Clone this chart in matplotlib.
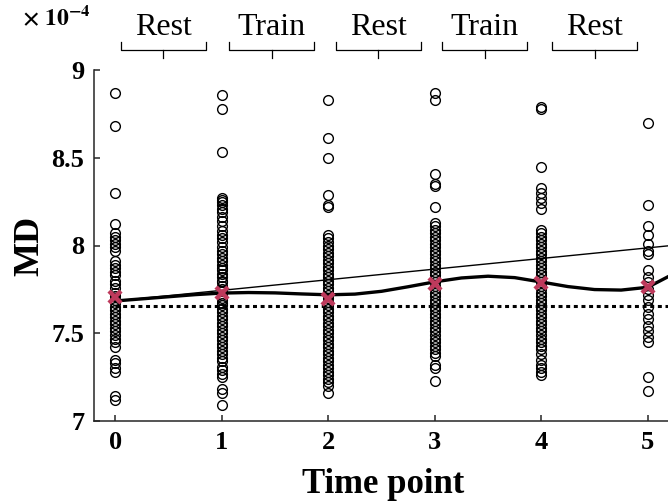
import matplotlib
matplotlib.use("Agg")
import matplotlib.pyplot as plt
from matplotlib.transforms import blended_transform_factory

plt.rcParams["font.family"] = ["Liberation Serif", "DejaVu Serif"]
plt.rcParams["mathtext.fontset"] = "stix"

# observed MD values (x 1e-4) per time point
md_t0 = [8.87, 8.68, 8.30, 8.12, 8.07, 8.05, 8.03, 8.01, 7.99, 7.97, 7.91, 7.89,
         7.87, 7.85, 7.83, 7.80, 7.78, 7.76, 7.73, 7.71, 7.69, 7.67, 7.65, 7.63,
         7.61, 7.59, 7.57, 7.55, 7.53, 7.51, 7.49, 7.47, 7.45, 7.42, 7.35, 7.33,
         7.30, 7.28, 7.14, 7.12]
md_t1 = [8.86, 8.78, 8.53, 8.27, 8.26, 8.25, 8.23, 8.21, 8.19, 8.16, 8.14, 8.11,
         8.08, 8.06, 8.04, 8.02, 7.99, 7.97, 7.95, 7.93, 7.91, 7.89, 7.87, 7.86,
         7.84, 7.82, 7.80, 7.79, 7.77, 7.75, 7.74, 7.72, 7.70, 7.69, 7.67, 7.66,
         7.64, 7.62, 7.60, 7.58, 7.56, 7.54, 7.52, 7.50, 7.48, 7.46, 7.44, 7.42,
         7.40, 7.38, 7.36, 7.34, 7.31, 7.29, 7.27, 7.25, 7.18, 7.16, 7.09]
md_t2 = [8.83, 8.61, 8.50, 8.29, 8.23, 8.22, 8.06, 8.04, 8.02, 8.00, 7.98, 7.96,
         7.94, 7.92, 7.90, 7.88, 7.86, 7.84, 7.82, 7.80, 7.78, 7.76, 7.74, 7.72,
         7.70, 7.68, 7.66, 7.64, 7.62, 7.60, 7.58, 7.56, 7.54, 7.52, 7.50, 7.48,
         7.46, 7.44, 7.42, 7.40, 7.38, 7.36, 7.34, 7.32, 7.30, 7.28, 7.26, 7.24,
         7.22, 7.20, 7.16]
md_t3 = [8.87, 8.83, 8.41, 8.35, 8.34, 8.22, 8.13, 8.11, 8.09, 8.07, 8.05, 8.03,
         8.01, 7.99, 7.97, 7.95, 7.93, 7.91, 7.89, 7.87, 7.85, 7.83, 7.81, 7.79,
         7.77, 7.75, 7.73, 7.71, 7.69, 7.67, 7.65, 7.63, 7.61, 7.59, 7.57, 7.55,
         7.53, 7.51, 7.49, 7.47, 7.45, 7.43, 7.41, 7.39, 7.37, 7.32, 7.30, 7.23]
md_t4 = [8.79, 8.78, 8.45, 8.33, 8.30, 8.27, 8.24, 8.21, 8.09, 8.07, 8.05, 8.03,
         8.01, 7.99, 7.97, 7.95, 7.93, 7.91, 7.89, 7.87, 7.85, 7.83, 7.81, 7.79,
         7.77, 7.75, 7.73, 7.71, 7.69, 7.67, 7.65, 7.63, 7.61, 7.59, 7.57, 7.55,
         7.53, 7.51, 7.49, 7.47, 7.45, 7.43, 7.41, 7.38, 7.35, 7.32, 7.30, 7.28,
         7.26]
md_t5 = [8.70, 8.23, 8.11, 8.06, 8.01, 7.97, 7.95, 7.86, 7.82, 7.79, 7.75, 7.72,
         7.69, 7.65, 7.61, 7.58, 7.54, 7.51, 7.48, 7.45, 7.25, 7.17]
md_obs = [md_t0, md_t1, md_t2, md_t3, md_t4, md_t5]

time_points = [0, 1, 2, 3, 4, 5]
md_mean = [7.708, 7.728, 7.694, 7.778, 7.785, 7.761]

# fitted curves
x_max = 5.19
baseline = 7.657
linear_x = [0, x_max]
linear_y = [7.684, 7.998]
curve_x = [0, 0.25, 0.5, 0.75, 1.0, 1.25, 1.5, 1.75, 2.0, 2.25, 2.5, 2.75,
           3.0, 3.25, 3.5, 3.75, 4.0, 4.25, 4.5, 4.75, 5.0, x_max]
curve_y = [7.684, 7.696, 7.708, 7.720, 7.729, 7.732, 7.730, 7.724, 7.719, 7.723,
           7.739, 7.765, 7.793, 7.815, 7.825, 7.817, 7.792, 7.766, 7.749, 7.746,
           7.762, 7.822]

phase_labels = ["Rest", "Train", "Rest", "Train", "Rest"]
phase_centers = [0.45, 1.47, 2.47, 3.47, 4.5]

fig = plt.figure(figsize=(6.68, 5.04), dpi=100)
ax = fig.add_axes([94 / 668, 83 / 504, 574 / 668, 351 / 504])

for t, vals in zip(time_points, md_obs):
    ax.plot([t] * len(vals), vals, "o", ms=7, mfc="none", mec="black", mew=1.0,
            zorder=2)

ax.plot([0, x_max], [baseline, baseline], color="black", lw=2.2,
        linestyle=(0, (1.3, 1.2)), zorder=3)
ax.plot(linear_x, linear_y, color="black", lw=1.0, zorder=3)
ax.plot(curve_x, curve_y, color="black", lw=2.4, zorder=3)
ax.plot(time_points, md_mean, "x", ms=9, mew=3.2, color="#BE3A5C", zorder=4)

ax.set_xlim(-0.2, x_max)
ax.set_ylim(7, 9)
ax.set_xticks(time_points)
ax.set_yticks([7, 7.5, 8, 8.5, 9])
ax.set_yticklabels(["7", "7.5", "8", "8.5", "9"])
for s in ["top", "right"]:
    ax.spines[s].set_visible(False)
for s in ["left", "bottom"]:
    ax.spines[s].set_color("#262626")
    ax.spines[s].set_linewidth(1.1)
ax.tick_params(direction="in", length=4.5, width=1.1, color="#262626",
               labelsize=19, pad=7)
for lab in ax.get_xticklabels() + ax.get_yticklabels():
    lab.set_fontweight("bold")

ax.set_xlabel("Time point", fontsize=25, fontweight="bold", va="center")
ax.xaxis.set_label_coords(0.504, -0.182)
ax.set_ylabel("MD", fontsize=26, fontweight="bold", va="center")
ax.yaxis.set_label_coords(-0.111, 0.5)

fig.text(22 / 668, 1 - 25 / 504, r"$\mathbf{\times\ 10^{-4}}$", fontsize=17,
         va="baseline", ha="left")

# phase brackets above the axes
tr = blended_transform_factory(ax.transData, ax.transAxes)
half = 0.4
y_line, y_end, y_mid = 1.057, 1.08, 1.034
for lab, c in zip(phase_labels, phase_centers):
    ax.plot([c - half, c - half, c + half, c + half], [y_end, y_line, y_line, y_end],
            color="black", lw=0.9, transform=tr, clip_on=False)
    ax.plot([c, c], [y_line, y_mid], color="black", lw=0.9, transform=tr,
            clip_on=False)
    ax.text(c, 1.1, lab, fontsize=23, ha="center", va="baseline", transform=tr)

fig.savefig("out.png", dpi=100)
